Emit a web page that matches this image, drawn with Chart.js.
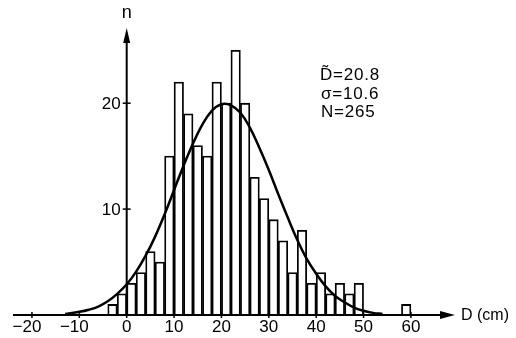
<!DOCTYPE html>
<html><head><meta charset="utf-8">
<script src="https://cdn.jsdelivr.net/npm/chart.js@4.4.1/dist/chart.umd.min.js"></script>
<style>html,body{margin:0;padding:0;background:#fff}#wrap{width:516px;height:338px;position:relative}</style>
</head><body><div id="wrap"><canvas id="c"></canvas></div>
<script>
// Histogram bins (width 2 cm), centres and counts
const binCenters = [-3,-1,1,3,5,7,9,11,13,15,17,19,21,23,25,27,29,31,33,35,37,39,41,43,45,47,49,59];
const binCounts  = [1,2,3,4,6,5,15,22,19,16,15,22,20,25,20,13,11,9,7,4,8,3,4,2,3,2,3,1];
// Fitted curve
const curveX = [-13,-10,-8,-6,-4,-2,0,2,4,6,8,10,12,14,16,18,20,22,24,26,28,30,32,34,36,38,40,42,44,46,48,50,52,54];
const curveY = [0.1,0.3,0.5,0.8,1.3,2.0,2.9,4.1,5.6,7.4,9.5,11.8,14.1,16.2,18.0,19.3,19.9,19.8,19.1,17.7,15.8,13.7,11.4,9.2,7.1,5.3,3.9,2.7,1.8,1.2,0.7,0.4,0.2,0.1];
// Axis ticks and labels
const xTickValues = [-20,-10,0,10,20,30,40,50,60];
const yTickValues = [10,20];
const xAxisTitle = 'D (cm)';
const yAxisTitle = 'n';
const statsLines = ['D\u0303=20.8','\u03c3=10.6','N=265'];

const FONT = '"Liberation Sans", Arial, sans-serif';

const axesPlugin = {
  id: 'axesPlugin',
  afterDatasetsDraw(chart) {
    const ctx = chart.ctx;
    const xs = chart.scales.x, ys = chart.scales.y;
    const x0 = xs.getPixelForValue(0), y0 = ys.getPixelForValue(0);
    const left = xs.left, right = xs.right, top = ys.top;
    ctx.save();
    ctx.strokeStyle = '#000'; ctx.fillStyle = '#000'; ctx.lineWidth = 2;
    // x axis with arrow
    ctx.beginPath(); ctx.moveTo(left, y0); ctx.lineTo(right - 10, y0); ctx.stroke();
    ctx.beginPath(); ctx.moveTo(right, y0); ctx.lineTo(right - 15, y0 - 4); ctx.lineTo(right - 15, y0 + 4); ctx.closePath(); ctx.fill();
    // y axis with arrow
    ctx.beginPath(); ctx.moveTo(x0, y0); ctx.lineTo(x0, top + 10); ctx.stroke();
    ctx.beginPath(); ctx.moveTo(x0, top); ctx.lineTo(x0 - 3.5, top + 15); ctx.lineTo(x0 + 3.5, top + 15); ctx.closePath(); ctx.fill();
    // x ticks + labels
    ctx.lineWidth = 1.5;
    ctx.font = '17px ' + FONT;
    ctx.textBaseline = 'alphabetic';
    xTickValues.forEach(v => {
      const px = xs.getPixelForValue(v);
      ctx.beginPath(); ctx.moveTo(px, y0 - 3); ctx.lineTo(px, y0 + 3); ctx.stroke();
      const label = v < 0 ? '\u2212' + Math.abs(v) : String(v);
      const w = ctx.measureText(String(Math.abs(v))).width;
      ctx.textAlign = 'right';
      ctx.fillText(label, px + w / 2, 332);
    });
    // y ticks + labels
    yTickValues.forEach(v => {
      const py = ys.getPixelForValue(v);
      ctx.beginPath(); ctx.moveTo(x0 - 4, py); ctx.lineTo(x0 + 4, py); ctx.stroke();
      ctx.textAlign = 'right'; ctx.textBaseline = 'middle';
      ctx.fillText(String(v), x0 - 6, py + 1);
    });
    // axis titles
    ctx.textBaseline = 'alphabetic';
    ctx.font = '18px ' + FONT; ctx.textAlign = 'center';
    ctx.fillText(yAxisTitle, x0, 18);
    ctx.font = '16px ' + FONT; ctx.textAlign = 'left'; ctx.textBaseline = 'middle';
    ctx.fillText(xAxisTitle, right + 6, y0 + 1);
    // stats annotation
    ctx.font = '17px ' + FONT; ctx.textAlign = 'left'; ctx.textBaseline = 'alphabetic';
    ctx.letterSpacing = '0.8px';
    const baselines = [80, 99, 117];
    const xs0 = [320, 321, 321];
    statsLines.forEach((t, i) => ctx.fillText(t, xs0[i], baselines[i]));
    ctx.restore();
  }
};

new Chart(document.getElementById('c'), {
  type: 'bar',
  data: {
    datasets: [
      {
        type: 'line',
        data: curveX.map((x, i) => ({x, y: curveY[i]})),
        borderColor: '#000', borderWidth: 2.5, pointRadius: 0,
        tension: 0.4, fill: false, order: 0
      },
      {
        type: 'bar',
        data: binCenters.map((x, i) => ({x, y: binCounts[i]})),
        backgroundColor: '#fff', borderColor: '#000', borderWidth: 1.8,
        barPercentage: 1, categoryPercentage: 1, grouped: false, order: 1
      }
    ]
  },
  options: {
    responsive: true, maintainAspectRatio: false, animation: false,
    layout: { padding: { left: 13, right: 61, top: 28, bottom: 23 } },
    plugins: { legend: { display: false }, tooltip: { enabled: false } },
    scales: {
      x: { type: 'linear', min: -24, max: 69.3, offset: false, display: false },
      y: { type: 'linear', min: 0, max: 27.1, display: false }
    }
  },
  plugins: [axesPlugin]
});
</script>
</body></html>
